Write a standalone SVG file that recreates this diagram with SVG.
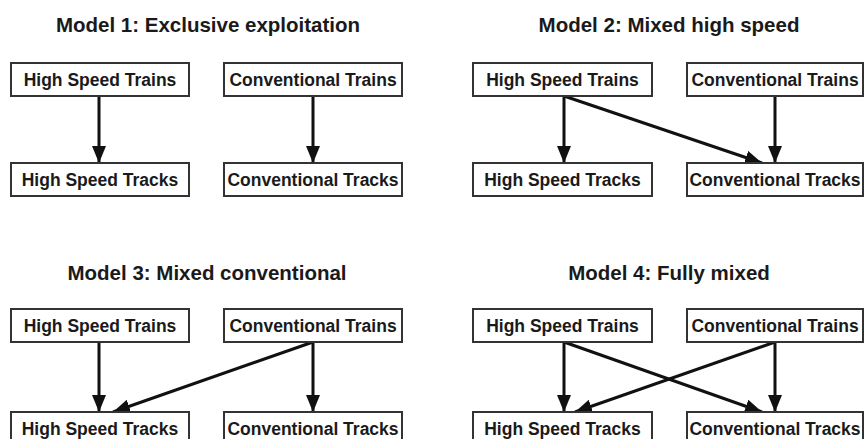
<svg xmlns="http://www.w3.org/2000/svg" width="865" height="439" viewBox="0 0 865 439">
<defs>
<style>
.box{fill:#fff;stroke:#333;stroke-width:2}
.lbl{font-family:"Liberation Sans",Arial,sans-serif;font-weight:bold;font-size:17.5px;fill:#1a1a1a;text-anchor:middle}
.ttl{font-family:"Liberation Sans",Arial,sans-serif;font-weight:bold;font-size:20.5px;fill:#1a1a1a;text-anchor:middle}
.arr{stroke:#111;stroke-width:3;fill:none;marker-end:url(#ah)}
</style>
<marker id="ah" markerUnits="userSpaceOnUse" markerWidth="18" markerHeight="14" refX="17" refY="7" orient="auto">
<path d="M0,0 L17,7 L0,14 z" fill="#111"/>
</marker>
</defs>
<rect width="865" height="439" fill="#fff"/>
<text class="ttl" x="208" y="32">Model 1: Exclusive exploitation</text>
<text class="ttl" x="669" y="32">Model 2: Mixed high speed</text>
<text class="ttl" x="207" y="280">Model 3: Mixed conventional</text>
<text class="ttl" x="669" y="280">Model 4: Fully mixed</text>
<g id="connectors">
<line class="arr" x1="99" y1="96" x2="99" y2="163"/>
<line class="arr" x1="313" y1="96" x2="313" y2="163"/>
<line class="arr" x1="564" y1="96" x2="564" y2="163"/>
<line class="arr" x1="564" y1="96" x2="762" y2="163"/>
<line class="arr" x1="775" y1="96" x2="775" y2="163"/>
<line class="arr" x1="99" y1="342" x2="99" y2="412"/>
<line class="arr" x1="313" y1="342" x2="313" y2="412"/>
<line class="arr" x1="313" y1="342" x2="113" y2="412"/>
<line class="arr" x1="564" y1="342" x2="564" y2="412"/>
<line class="arr" x1="564" y1="342" x2="762" y2="412"/>
<line class="arr" x1="775" y1="342" x2="775" y2="412"/>
<line class="arr" x1="775" y1="342" x2="575" y2="412"/>
</g>
<g id="m1-hst"><rect class="box" x="11" y="63" width="178" height="33"/><text class="lbl" x="100" y="85.5">High Speed Trains</text></g>
<g id="m1-ct"><rect class="box" x="224" y="63" width="178" height="33"/><text class="lbl" x="313" y="85.5">Conventional Trains</text></g>
<g id="m1-hstr"><rect class="box" x="11" y="163" width="178" height="33"/><text class="lbl" x="100" y="185.5">High Speed Tracks</text></g>
<g id="m1-ctr"><rect class="box" x="224" y="163" width="178" height="33"/><text class="lbl" x="313" y="185.5">Conventional Tracks</text></g>
<g id="m2-hst"><rect class="box" x="473" y="63" width="179" height="33"/><text class="lbl" x="562.5" y="85.5">High Speed Trains</text></g>
<g id="m2-ct"><rect class="box" x="687" y="63" width="176" height="33"/><text class="lbl" x="775" y="85.5">Conventional Trains</text></g>
<g id="m2-hstr"><rect class="box" x="473" y="163" width="179" height="33"/><text class="lbl" x="562.5" y="185.5">High Speed Tracks</text></g>
<g id="m2-ctr"><rect class="box" x="687" y="163" width="176" height="33"/><text class="lbl" x="775" y="185.5">Conventional Tracks</text></g>
<g id="m3-hst"><rect class="box" x="11" y="309" width="178" height="33"/><text class="lbl" x="100" y="331.5">High Speed Trains</text></g>
<g id="m3-ct"><rect class="box" x="224" y="309" width="178" height="33"/><text class="lbl" x="313" y="331.5">Conventional Trains</text></g>
<g id="m3-hstr"><rect class="box" x="11" y="412" width="178" height="33"/><text class="lbl" x="100" y="434.5">High Speed Tracks</text></g>
<g id="m3-ctr"><rect class="box" x="224" y="412" width="178" height="33"/><text class="lbl" x="313" y="434.5">Conventional Tracks</text></g>
<g id="m4-hst"><rect class="box" x="473" y="309" width="179" height="33"/><text class="lbl" x="562.5" y="331.5">High Speed Trains</text></g>
<g id="m4-ct"><rect class="box" x="687" y="309" width="176" height="33"/><text class="lbl" x="775" y="331.5">Conventional Trains</text></g>
<g id="m4-hstr"><rect class="box" x="473" y="412" width="179" height="33"/><text class="lbl" x="562.5" y="434.5">High Speed Tracks</text></g>
<g id="m4-ctr"><rect class="box" x="687" y="412" width="176" height="33"/><text class="lbl" x="775" y="434.5">Conventional Tracks</text></g>
</svg>
